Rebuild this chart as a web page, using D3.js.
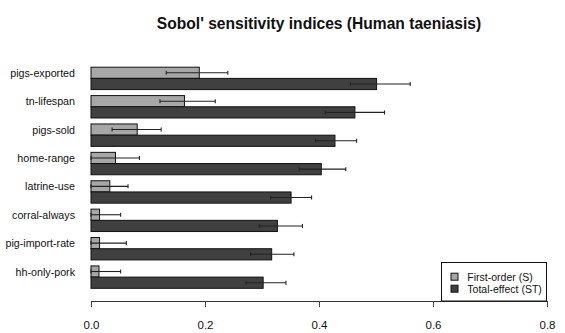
<!DOCTYPE html>
<html>
<head>
<meta charset="utf-8">
<script src="https://cdn.jsdelivr.net/npm/d3@7"></script>
<style>
  html, body { margin: 0; padding: 0; background: #fff; }
  svg { display: block; font-family: "Liberation Sans", Arial, sans-serif; }
</style>
</head>
<body>
<svg id="chart" width="565" height="333"></svg>
<script>
// Parameters, listed from top to bottom of the chart
const categories = ["pigs-exported", "tn-lifespan", "pigs-sold", "home-range",
                    "latrine-use", "corral-always", "pig-import-rate", "hh-only-pork"];

// First-order indices (S) with confidence bounds
const firstOrder = [0.190, 0.164, 0.081, 0.043, 0.033, 0.015, 0.015, 0.014];
const firstLow   = [0.132, 0.121, 0.037, 0.000, 0.000, 0.000, 0.000, 0.000];
const firstHigh  = [0.240, 0.218, 0.123, 0.085, 0.065, 0.052, 0.062, 0.052];

// Total-effect indices (ST) with confidence bounds
const totalEffect = [0.501, 0.463, 0.428, 0.404, 0.351, 0.327, 0.317, 0.302];
const totalLow    = [0.455, 0.411, 0.394, 0.365, 0.315, 0.295, 0.280, 0.272];
const totalHigh   = [0.560, 0.515, 0.466, 0.447, 0.387, 0.371, 0.356, 0.342];

const seriesNames = ["First-order (S)", "Total-effect (ST)"];
const xTicks = [0.0, 0.2, 0.4, 0.6, 0.8];

const colors = { S: "#a7a7a7", ST: "#404040" };

const svg = d3.select("#chart");

const x = d3.scaleLinear().domain([0, 0.8]).range([91, 547]);
const y = d3.scaleBand().domain(categories).range([61.2, 294.3]).padding(0.211);
const inner = d3.scaleBand().domain(["S", "ST"]).range([0, y.bandwidth()]);

// Build rows: one per bar
const rows = [];
categories.forEach((c, i) => {
  rows.push({ cat: c, key: "S",  v: firstOrder[i],  lo: firstLow[i],  hi: firstHigh[i] });
  rows.push({ cat: c, key: "ST", v: totalEffect[i], lo: totalLow[i],  hi: totalHigh[i] });
});

// Title
svg.append("text")
  .attr("x", 319).attr("y", 29)
  .attr("text-anchor", "middle")
  .attr("font-weight", "bold")
  .attr("font-size", "15.6px")
  .attr("fill", "#111")
  .text("Sobol' sensitivity indices (Human taeniasis)");

// Bars
svg.append("g").selectAll("rect").data(rows).join("rect")
  .attr("x", x(0))
  .attr("y", d => y(d.cat) + inner(d.key))
  .attr("width", d => x(d.v) - x(0))
  .attr("height", inner.bandwidth())
  .attr("fill", d => colors[d.key])
  .attr("stroke", "#111")
  .attr("stroke-width", 1);

// Error bars
const eb = svg.append("g").attr("stroke", "#222").attr("stroke-width", 1.1);
rows.forEach(d => {
  const cy = y(d.cat) + inner(d.key) + inner.bandwidth() / 2;
  eb.append("line").attr("x1", x(d.lo)).attr("x2", x(d.hi)).attr("y1", cy).attr("y2", cy);
  [d.lo, d.hi].forEach(v => {
    eb.append("line").attr("x1", x(v)).attr("x2", x(v)).attr("y1", cy - 2).attr("y2", cy + 2);
  });
});

// Category labels
svg.append("g").selectAll("text").data(categories).join("text")
  .attr("x", 75)
  .attr("y", d => y(d) + y.bandwidth() / 2 - 1.5)
  .attr("text-anchor", "end")
  .attr("font-size", "10.7px")
  .attr("fill", "#111")
  .text(d => d);

// X axis
const axis = svg.append("g")
  .attr("transform", "translate(0,301)")
  .call(d3.axisBottom(x).tickValues(xTicks).tickFormat(d3.format(".1f")).tickSize(6).tickPadding(14));
axis.select(".domain").attr("stroke", "#333");
axis.selectAll(".tick line").attr("stroke", "#444");
axis.selectAll(".tick text")
  .attr("font-size", "11.5px")
  .attr("font-family", "'Liberation Sans', Arial, sans-serif")
  .attr("fill", "#111");

// Legend
const legend = svg.append("g");
legend.append("rect")
  .attr("x", 441.5).attr("y", 262.5)
  .attr("width", 105).attr("height", 38.5)
  .attr("fill", "#fff").attr("stroke", "#111").attr("stroke-width", 1);
seriesNames.forEach((name, i) => {
  const cy = 276.7 + i * 12;
  legend.append("rect")
    .attr("x", 451).attr("y", cy - 3.5)
    .attr("width", 7).attr("height", 7)
    .attr("fill", i === 0 ? colors.S : colors.ST)
    .attr("stroke", "#111").attr("stroke-width", 1);
  legend.append("text")
    .attr("x", 467.3).attr("y", cy + 3.8)
    .attr("font-size", "10.5px")
    .attr("fill", "#111")
    .text(name);
});
</script>
</body>
</html>
